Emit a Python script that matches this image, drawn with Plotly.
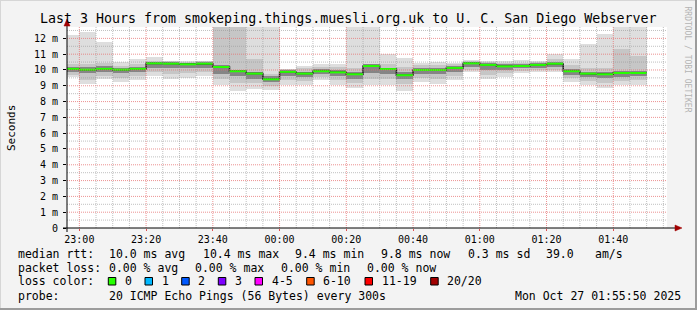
import plotly.graph_objects as go
import pandas as pd

# ---------------- data ----------------
bar_starts = [
    "2025-10-26 22:55", "2025-10-26 23:00", "2025-10-26 23:05", "2025-10-26 23:10",
    "2025-10-26 23:15", "2025-10-26 23:20", "2025-10-26 23:25", "2025-10-26 23:30",
    "2025-10-26 23:35", "2025-10-26 23:40", "2025-10-26 23:45", "2025-10-26 23:50",
    "2025-10-26 23:55", "2025-10-27 00:00", "2025-10-27 00:05", "2025-10-27 00:10",
    "2025-10-27 00:15", "2025-10-27 00:20", "2025-10-27 00:25", "2025-10-27 00:30",
    "2025-10-27 00:35", "2025-10-27 00:40", "2025-10-27 00:45", "2025-10-27 00:50",
    "2025-10-27 00:55", "2025-10-27 01:00", "2025-10-27 01:05", "2025-10-27 01:10",
    "2025-10-27 01:15", "2025-10-27 01:20", "2025-10-27 01:25", "2025-10-27 01:30",
    "2025-10-27 01:35", "2025-10-27 01:40", "2025-10-27 01:45",
]
# ping distribution per 5 min step (ms): min, 2nd layer low, inner low, median, inner high, 2nd layer high, max
rtt_min = [9.56, 9.10, 9.45, 9.24, 9.39, 9.60, 9.45, 9.50, 9.62, 9.03, 8.67, 8.82,
           8.72, 9.08, 9.03, 9.35, 9.08, 8.89, 9.03, 9.03, 8.67, 9.24, 9.14, 9.35,
           9.88, 9.45, 9.56, 9.81, 9.88, 9.88, 9.24, 9.03, 8.89, 9.03, 9.08]
rtt_lo2 = [9.70, 9.35, 9.60, 9.50, 9.60, 9.85, 9.75, 9.80, 9.85, 9.40, 9.20, 9.20,
           9.00, 9.35, 9.30, 9.55, 9.35, 9.20, 9.40, 9.40, 9.10, 9.50, 9.45, 9.60,
           10.00, 9.70, 9.80, 9.95, 10.00, 10.00, 9.50, 9.30, 9.20, 9.30, 9.35]
rtt_q1 = [9.85, 9.80, 9.85, 9.80, 9.85, 10.10, 10.10, 10.10, 10.15, 9.75, 9.60, 9.45,
          9.25, 9.65, 9.55, 9.75, 9.60, 9.45, 9.80, 9.75, 9.40, 9.75, 9.75, 9.85,
          10.20, 10.00, 10.00, 10.10, 10.15, 10.20, 9.70, 9.55, 9.50, 9.55, 9.60]
rtt_median = [10.07, 10.02, 10.07, 10.02, 10.07, 10.42, 10.40, 10.36, 10.40, 10.19, 9.92, 9.77,
              9.41, 9.88, 9.77, 9.92, 9.85, 9.73, 10.25, 10.06, 9.67, 10.00, 10.00, 10.13,
              10.42, 10.32, 10.23, 10.25, 10.32, 10.40, 9.92, 9.77, 9.73, 9.81, 9.81]
rtt_q3 = [10.20, 10.20, 10.25, 10.12, 10.18, 10.50, 10.48, 10.45, 10.48, 10.30, 10.00, 9.90,
          9.60, 9.98, 9.90, 10.05, 10.00, 9.85, 10.35, 10.15, 9.85, 10.12, 10.12, 10.25,
          10.50, 10.42, 10.35, 10.35, 10.42, 10.50, 10.05, 9.90, 9.85, 9.95, 9.95]
rtt_hi2 = [10.35, 10.38, 10.45, 10.25, 10.35, 10.60, 10.55, 10.50, 10.55, 13.50, 13.50, 10.72,
           9.75, 10.05, 10.10, 10.20, 10.20, 10.10, 10.34, 10.40, 10.20, 10.30, 10.30, 10.38,
           10.55, 10.50, 10.45, 10.45, 10.50, 10.70, 10.30, 10.15, 10.10, 11.31, 10.88]
rtt_max = [12.19, 12.40, 11.80, 10.50, 10.67, 10.80, 10.60, 10.55, 10.60, 14.00, 14.00, 14.00,
           14.00, 10.09, 10.23, 10.36, 10.36, 14.00, 14.00, 10.99, 10.76, 10.47, 10.50, 10.47,
           10.61, 10.55, 10.55, 10.61, 10.55, 11.03, 10.72, 11.67, 12.25, 14.00, 14.00]

x_range = ["2025-10-26 22:56:18", "2025-10-27 01:56:06"]
x_tick_vals = ["2025-10-26 23:00", "2025-10-26 23:20", "2025-10-26 23:40", "2025-10-27 00:00",
               "2025-10-27 00:20", "2025-10-27 00:40", "2025-10-27 01:00", "2025-10-27 01:20",
               "2025-10-27 01:40"]
x_tick_text = ["23:00", "23:20", "23:40", "00:00", "00:20", "00:40", "01:00", "01:20", "01:40"]
y_tick_vals = [0, 1, 2, 3, 4, 5, 6, 7, 8, 9, 10, 11, 12]
y_tick_text = ["0", "1 m", "2 m", "3 m", "4 m", "5 m", "6 m", "7 m", "8 m", "9 m",
               "10 m", "11 m", "12 m"]

title_text = "Last 3 Hours from smokeping.things.muesli.org.uk to U. C. San Diego Webserver"
legend_rows = [
    [(16, "median rtt:"), (107.3, "10.0 ms avg"), (201, "10.4 ms max"), (293.3, "9.4 ms min"),
     (379.3, "9.8 ms now"), (465.7, "0.3 ms sd"), (544, "39.0"), (593.3, "am/s")],
    [(16, "packet loss:"), (107.3, "0.00 % avg"), (193.3, "0.00 % max"), (279.3, "0.00 % min"),
     (365, "0.00 % now")],
    [(16, "loss color:")],
    [(16, "probe:"), (107.3, "20 ICMP Echo Pings (56 Bytes) every 300s"),
     (513.3, "Mon Oct 27 01:55:50 2025")],
]
legend_row_y = [254.3, 268.3, 281.2, 295.7]
loss_labels = ["0", "1", "2", "3", "4-5", "6-10", "11-19", "20/20"]
loss_colors = ["#26ff00", "#00b8ff", "#0059ff", "#7e00ff", "#ff00ff", "#ff5500", "#ff0000", "#a10000"]
loss_box_x = [108.3, 145.0, 181.7, 218.3, 255.0, 306.7, 365.0, 430.7]

# ---------------- geometry ----------------
W, H = 697, 310
ML, MR, MT, MB = 67, 30, 27, 82
PW, PH = W - ML - MR, H - MT - MB
FONT = "DejaVu Sans Mono"


def px(xp):
    return (xp - ML) / PW


def py(yp):
    return (MT + PH - yp) / PH


step_ms = 300000
starts = pd.to_datetime(bar_starts)
ends = starts + pd.Timedelta(minutes=5)

fig = go.Figure()


def band(lo, hi, color):
    fig.add_trace(go.Bar(
        x=starts, base=lo, y=[h - l for l, h in zip(lo, hi)], width=step_ms, offset=0,
        marker=dict(color=color, line=dict(width=0)), hoverinfo="skip", showlegend=False))


band(rtt_min, rtt_max, "#dedede")
band(rtt_lo2, rtt_hi2, "#c6c6c6")
band(rtt_q1, rtt_q3, "#858585")

# black median step line
step_x, step_y = [], []
for s, e, m in zip(starts, ends, rtt_median):
    step_x += [s, e]
    step_y += [m, m]
fig.add_trace(go.Scatter(x=step_x, y=step_y, mode="lines",
                         line=dict(color="#202020", width=1.5), hoverinfo="skip", showlegend=False))
# loss-coloured median segments
seg_x, seg_y = [], []
for s, e, m in zip(starts, ends, rtt_median):
    seg_x += [s, e, None]
    seg_y += [m, m, None]
fig.add_trace(go.Scatter(x=seg_x, y=seg_y, mode="lines",
                         line=dict(color=loss_colors[0], width=2), hoverinfo="skip", showlegend=False))

shapes = []
# grid above smoke
grid_times = pd.date_range("2025-10-26 23:00", "2025-10-27 01:55", freq="5min")
major_times = set(pd.to_datetime(x_tick_vals))
for t in grid_times:
    major = t in major_times
    shapes.append(dict(type="line", xref="x", yref="paper", x0=t, x1=t, y0=0, y1=1, layer="above",
                       line=dict(color="rgba(230,110,110,0.75)" if major else "rgba(150,150,150,0.6)",
                                 width=1, dash="1px,1px")))
for k in range(1, 26):
    v = k * 0.5
    major = (k % 2 == 0)
    shapes.append(dict(type="line", xref="paper", yref="y", x0=0, x1=1, y0=v, y1=v, layer="above",
                       line=dict(color="rgba(230,110,110,0.75)" if major else "rgba(150,150,150,0.6)",
                                 width=1, dash="1px,1px")))

# axis lines with arrows
shapes.append(dict(type="line", xref="paper", yref="paper", x0=px(63), x1=px(677), y0=0, y1=0,
                   line=dict(color="black", width=1), layer="above"))
shapes.append(dict(type="line", xref="paper", yref="paper", x0=0, x1=0, y0=py(232), y1=py(24),
                   line=dict(color="black", width=1), layer="above"))
shapes.append(dict(type="path", xref="paper", yref="paper", layer="above",
                   path=f"M {px(675)} {py(225)} L {px(682)} {py(228)} L {px(675)} {py(231)} Z",
                   fillcolor="#a00000", line=dict(color="#a00000", width=0.5)))
shapes.append(dict(type="path", xref="paper", yref="paper", layer="above",
                   path=f"M {px(64)} {py(26)} L {px(67)} {py(19)} L {px(70)} {py(26)} Z",
                   fillcolor="#a00000", line=dict(color="#a00000", width=0.5)))

# loss colour boxes
for bx, col in zip(loss_box_x, loss_colors):
    shapes.append(dict(type="rect", xref="paper", yref="paper", x0=px(bx), x1=px(bx + 7.5),
                       y0=py(285), y1=py(277.5), fillcolor=col, line=dict(color="black", width=1)))

# image frame
shapes.append(dict(type="line", xref="paper", yref="paper", x0=px(0), x1=px(W), y0=py(0.5), y1=py(0.5),
                   line=dict(color="#d6d6d6", width=1)))
shapes.append(dict(type="line", xref="paper", yref="paper", x0=px(0.5), x1=px(0.5), y0=py(0), y1=py(H),
                   line=dict(color="#d6d6d6", width=1)))
shapes.append(dict(type="line", xref="paper", yref="paper", x0=px(0), x1=px(W), y0=py(H - 1), y1=py(H - 1),
                   line=dict(color="#9c9c9c", width=2)))
shapes.append(dict(type="line", xref="paper", yref="paper", x0=px(W - 1), x1=px(W - 1), y0=py(0), y1=py(H),
                   line=dict(color="#9c9c9c", width=2)))

annotations = []
for row, yy in zip(legend_rows, legend_row_y):
    for xx, txt in row:
        annotations.append(dict(text=txt, x=px(xx), y=py(yy), xref="paper", yref="paper",
                                xanchor="left", yanchor="middle", showarrow=False,
                                font=dict(family=FONT, size=11.5, color="black")))
for bx, lab in zip(loss_box_x, loss_labels):
    annotations.append(dict(text=lab, x=px(bx + 14.7), y=py(legend_row_y[2]), xref="paper", yref="paper",
                            xanchor="left", yanchor="middle", showarrow=False,
                            font=dict(family=FONT, size=11.5, color="black")))
annotations.append(dict(text=title_text, x=px(347.5), y=py(19), xref="paper", yref="paper",
                        showarrow=False, xanchor="center", yanchor="middle",
                        font=dict(family=FONT, size=13.3, color="black")))
annotations.append(dict(text="Seconds", x=px(11), y=py(128), xref="paper", yref="paper", showarrow=False,
                        textangle=-90, xanchor="center", yanchor="middle",
                        font=dict(family=FONT, size=11, color="black")))
annotations.append(dict(text="RRDTOOL / TOBI OETIKER", x=px(687.5), y=py(59), xref="paper", yref="paper",
                        showarrow=False, textangle=90, xanchor="center", yanchor="middle",
                        font=dict(family=FONT, size=8, color="#b4b4b4")))

fig.update_layout(
    width=W, height=H, autosize=False,
    margin=dict(l=ML, r=MR, t=MT, b=MB, pad=0),
    paper_bgcolor="#f3f3f3", plot_bgcolor="white",
    barmode="overlay", bargap=0, showlegend=False,
    shapes=shapes, annotations=annotations,
    font=dict(family=FONT, size=10, color="black"),
)
fig.update_xaxes(type="date", range=x_range, tickvals=x_tick_vals, ticktext=x_tick_text,
                 ticks="outside", ticklen=2, tickcolor="#e05050", showgrid=False, zeroline=False,
                 showline=False, tickfont=dict(family=FONT, size=10, color="black"),
                 ticklabelstandoff=0, fixedrange=True)
fig.update_yaxes(range=[0, 12.72], tickvals=y_tick_vals, ticktext=y_tick_text,
                 ticks="outside", ticklen=3, tickcolor="black", showgrid=False, zeroline=False,
                 showline=False, tickfont=dict(family=FONT, size=10, color="black"),
                 ticklabelstandoff=3, fixedrange=True)

fig.write_html("out.html", config={"displayModeBar": False})
